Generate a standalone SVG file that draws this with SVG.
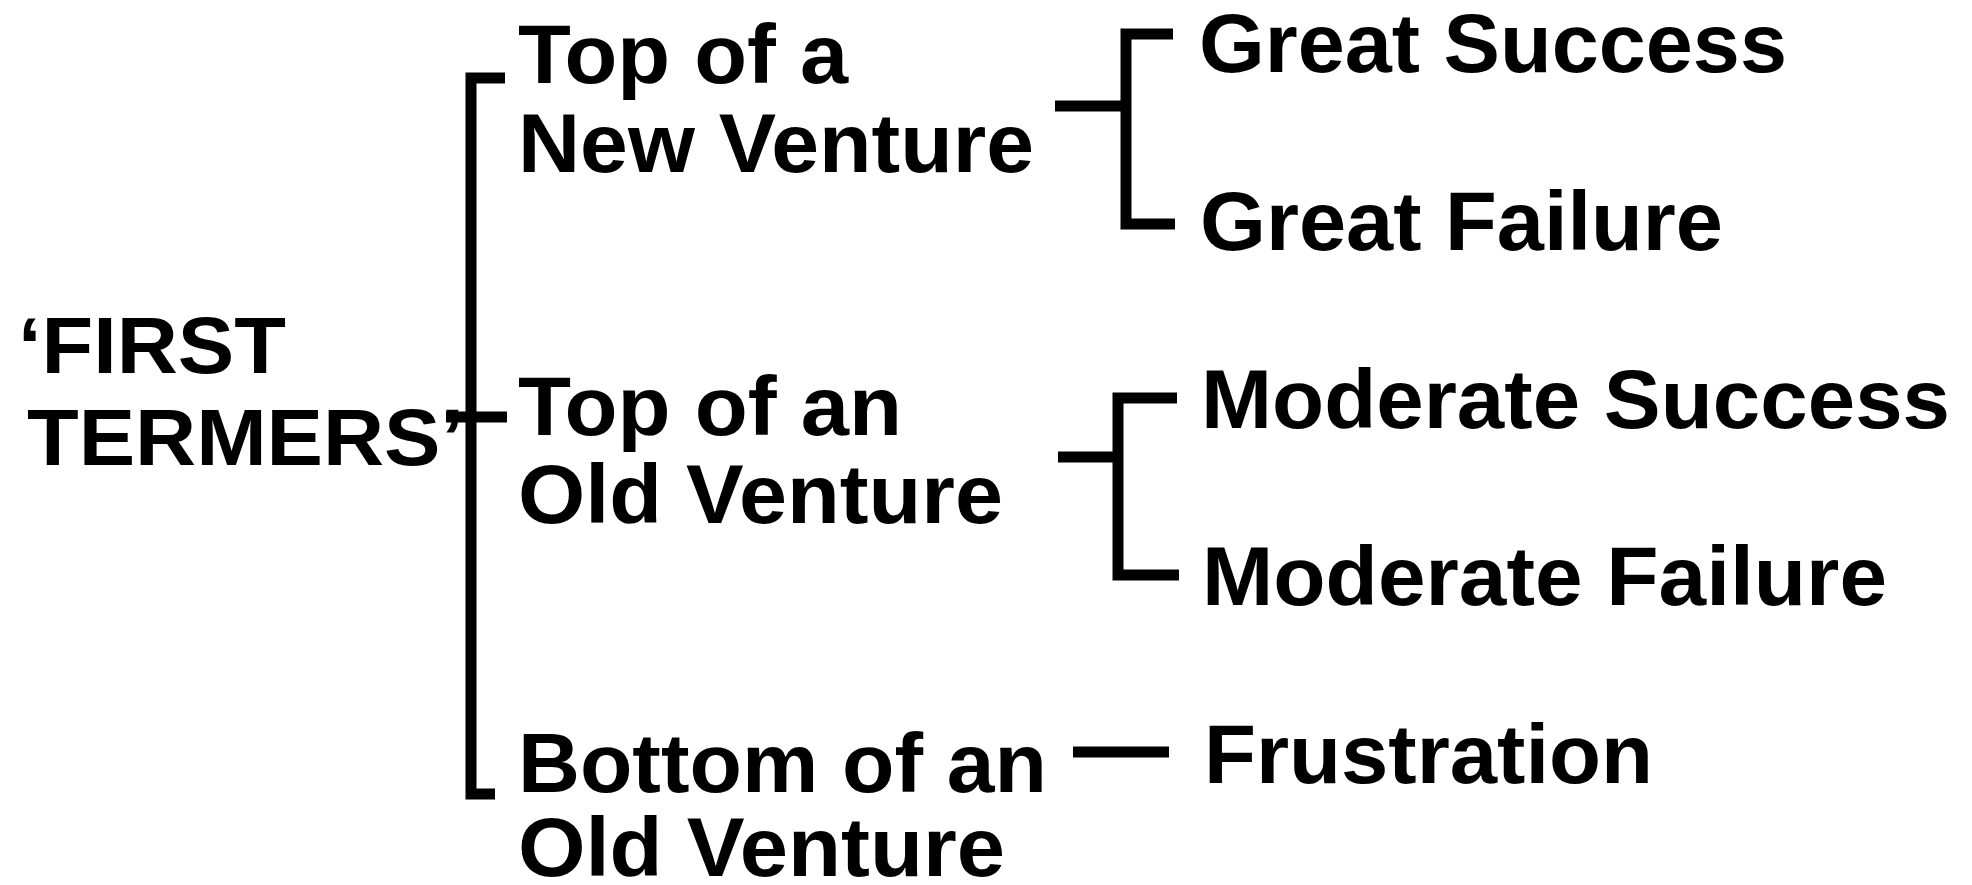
<svg xmlns="http://www.w3.org/2000/svg" width="1972" height="885" viewBox="0 0 1972 885">
<style>
.t{font-family:"Liberation Sans",Arial,sans-serif;font-weight:bold;fill:#000;font-size:83px}
.root{font-size:80px}
.c{fill:none;stroke:#000;stroke-width:11;stroke-linejoin:miter;stroke-linecap:butt}
</style>
<rect width="1972" height="885" fill="#fff"/>
<g id="connectors">
<path class="c" d="M505,78 H471 V794 H495"/>
<path class="c" d="M446,417 H507"/>
<path class="c" d="M1055,106 H1126"/>
<path class="c" d="M1173,34 H1126 V224 H1175"/>
<path class="c" d="M1058,457 H1118"/>
<path class="c" d="M1177,398 H1118 V575 H1179"/>
<path class="c" d="M1073,752 H1169"/>
</g>
<g id="node-first-termers">
<text class="t root" x="18" y="373" textLength="268" lengthAdjust="spacingAndGlyphs">‘FIRST</text>
<text class="t root" x="27" y="465" textLength="437" lengthAdjust="spacingAndGlyphs">TERMERS’</text>
</g>
<g id="node-top-new">
<text class="t" x="518" y="83" textLength="330" lengthAdjust="spacingAndGlyphs">Top of a</text>
<text class="t" x="518" y="172" textLength="516" lengthAdjust="spacingAndGlyphs">New Venture</text>
</g>
<g id="node-top-old">
<text class="t" x="518" y="435" textLength="384" lengthAdjust="spacingAndGlyphs">Top of an</text>
<text class="t" x="518" y="523" textLength="485" lengthAdjust="spacingAndGlyphs">Old Venture</text>
</g>
<g id="node-bottom-old">
<text class="t" x="518" y="792" textLength="529" lengthAdjust="spacingAndGlyphs">Bottom of an</text>
<text class="t" x="518" y="876" textLength="487" lengthAdjust="spacingAndGlyphs">Old Venture</text>
</g>
<g id="node-great-success">
<text class="t" x="1199" y="72" textLength="588" lengthAdjust="spacingAndGlyphs">Great Success</text>
</g>
<g id="node-great-failure">
<text class="t" x="1200" y="250" textLength="523" lengthAdjust="spacingAndGlyphs">Great Failure</text>
</g>
<g id="node-moderate-success">
<text class="t" x="1201" y="428" textLength="749" lengthAdjust="spacingAndGlyphs">Moderate Success</text>
</g>
<g id="node-moderate-failure">
<text class="t" x="1202" y="605" textLength="685" lengthAdjust="spacingAndGlyphs">Moderate Failure</text>
</g>
<g id="node-frustration">
<text class="t" x="1204" y="783" textLength="449" lengthAdjust="spacingAndGlyphs">Frustration</text>
</g>
</svg>
